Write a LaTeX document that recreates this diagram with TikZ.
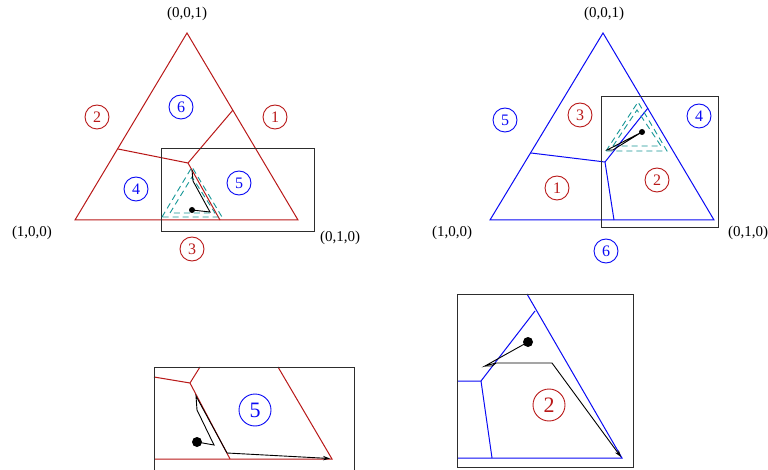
\documentclass[tikz,border=0pt]{standalone}
\usepackage{fontspec}
\setmainfont{Liberation Serif}
\usetikzlibrary{arrows.meta}
\definecolor{simred}{RGB}{185,25,25}
\definecolor{simblue}{RGB}{10,10,245}
\definecolor{simteal}{RGB}{20,150,150}
\definecolor{boxgray}{RGB}{45,45,45}
\tikzset{
  region/.style={circle, draw, line width=0.9pt, inner sep=0pt, minimum size=24pt, font=\fontsize{16}{16}\selectfont},
  bigregion/.style={region, minimum size=32pt, font=\fontsize{22}{22}\selectfont},
  corner/.style={font=\fontsize{15}{15}\selectfont},
  zoombox/.style={draw=boxgray, line width=1pt},
  guard/.style={simteal, line width=0.9pt, dash pattern=on 6pt off 4pt},
  traj/.style={black, line width=0.9pt},
  edge/.style={line width=1pt}
}
\begin{document}
\begin{tikzpicture}[x=1pt, y=-1pt, >={Stealth[length=7pt,width=4.5pt]}]
    \clip (0,0) rectangle (768,470);
    \fill[white] (0,0) rectangle (768,470);

    % Left simplex
    \begin{scope}[simred]
        \coordinate (A1) at (187,33);
        \coordinate (L1) at (75,220);
        \coordinate (R1) at (298,220);
        \coordinate (c1) at (188,163);
        \coordinate (e1) at (118,149);
        \coordinate (f1) at (233,110);
        \coordinate (g1) at (220,220);
        \draw[edge] (A1) -- (L1) -- (R1) -- cycle;
        \draw[edge] (e1) -- (c1) -- (f1);
        \draw[edge] (c1) -- (g1);
        \node[corner, black] (top1) at (187,14) {(0,0,1)};
        \node[corner, black] (lft1) at (32,233) {(1,0,0)};
        \node[corner, black] (rgt1) at (340,238) {(0,1,0)};
        \node[region, simblue] (r6a) at (181,107) {6};
        \node[region] (r2a) at (97,117) {2};
        \node[region] (r1a) at (275,117) {1};
        \node[region, simblue] (r4a) at (136,189) {4};
        \node[region, simblue] (r5a) at (239,183) {5};
        \node[region] (r3a) at (192,249) {3};
    \end{scope}
    % zoom window and trajectory
    \draw[zoombox] (161,149) rectangle (314,232);
    \draw[guard] (162,217) -- (192,167) -- (222,217) -- cycle;
    \draw[guard] (170,213) -- (192,177) -- (215,213) -- cycle;
    \coordinate (t1) at (192,170);
    \coordinate (t2) at (193,181);
    \coordinate (t3) at (210,212);
    \fill (192,210) circle (3pt) coordinate (dot1);
    \draw[traj] (t1) -- (t2) -- (t3) -- (dot1);

    % Right simplex
    \begin{scope}[shift={(416,0)}, simblue]
        \coordinate (A2) at (187,33);
        \coordinate (L2) at (74,220);
        \coordinate (R2) at (298,220);
        \coordinate (c2) at (189,162);
        \coordinate (e2) at (115,153);
        \coordinate (f2) at (232,108);
        \coordinate (g2) at (198,220);
        \draw[edge] (A2) -- (L2) -- (R2) -- cycle;
        \draw[edge] (e2) -- (c2) -- (f2);
        \draw[edge] (c2) -- (g2);
        \node[corner, black] (top2) at (188,14) {(0,0,1)};
        \node[corner, black] (lft2) at (36,233) {(1,0,0)};
        \node[corner, black] (rgt2) at (332,233) {(0,1,0)};
        \node[region] (r5b) at (89,120) {5};
        \node[region, simred] (r3b) at (164,115) {3};
        \node[region] (r4b) at (283,116) {4};
        \node[region, simred] (r1b) at (141,188) {1};
        \node[region, simred] (r2b) at (241,180) {2};
        \node[region] (r6b) at (190,251) {6};
    \end{scope}
    \draw[zoombox] (601,97) rectangle (718,228);
    \draw[guard] (606,151) -- (638,102) -- (667,151) -- cycle;
    \draw[guard] (613,146) -- (637,110) -- (661,146) -- cycle;
    \coordinate (u1) at (607,150);
    \coordinate (u2) at (613,150);
    \coordinate (u3) at (616,148);
    \fill (642,132) circle (3pt) coordinate (dot2);
    \draw[traj] (dot2) -- (u1) -- (u2) -- (u3) -- cycle;

    % Inset of the left window
    \begin{scope}[simred]
        \coordinate (p1) at (154,377);
        \coordinate (q1) at (190,383);
        \coordinate (q2) at (200,367);
        \coordinate (q3) at (230,459);
        \coordinate (s1) at (278,367);
        \coordinate (s2) at (332,459);
        \coordinate (s0) at (154,459);
        \draw[edge] (p1) -- (q1) -- (q2);
        \draw[edge] (q1) -- (q3);
        \draw[edge] (s1) -- (s2) -- (s0);
        \node[bigregion, simblue] (r5c) at (255,410) {5};
    \end{scope}
    \draw[zoombox] (154,475) -- (154,367) -- (354,367) -- (354,475);
    \coordinate (a1) at (196,396);
    \coordinate (a2) at (197,410);
    \coordinate (a3) at (214,445);
    \coordinate (a4) at (227,453);
    \coordinate (a5) at (330,458.5);
    \fill (197,442) circle (5pt) coordinate (dot3);
    \draw[traj] (dot3) -- (a3) -- (a2) -- (a1) -- (a4);
    \draw[traj, ->] (a4) -- (a5);

    % Inset of the right window
    \begin{scope}[simblue]
        \coordinate (h1) at (527,294);
        \coordinate (h2) at (622,458);
        \coordinate (h3) at (535,311);
        \coordinate (h4) at (481,381);
        \coordinate (h5) at (457,381);
        \coordinate (h6) at (492,458);
        \coordinate (h7) at (457,458);
        \draw[edge] (h1) -- (h2) -- (h7);
        \draw[edge] (h3) -- (h4) -- (h5);
        \draw[edge] (h4) -- (h6);
        \node[bigregion, simred] (r2c) at (549,405) {2};
    \end{scope}
    \draw[zoombox] (457,294) rectangle (633,467);
    \coordinate (k1) at (485,366);
    \coordinate (k2) at (492,366);
    \coordinate (k3) at (496,363);
    \coordinate (k4) at (552,363);
    \coordinate (k5) at (621,457);
    \fill (528,342) circle (5pt) coordinate (dot4);
    \draw[traj] (dot4) -- (k1) -- (k3) -- (k4);
    \draw[traj] (k1) -- (k2) -- (k3);
    \draw[traj, ->] (k4) -- (k5);
\end{tikzpicture}
\end{document}
